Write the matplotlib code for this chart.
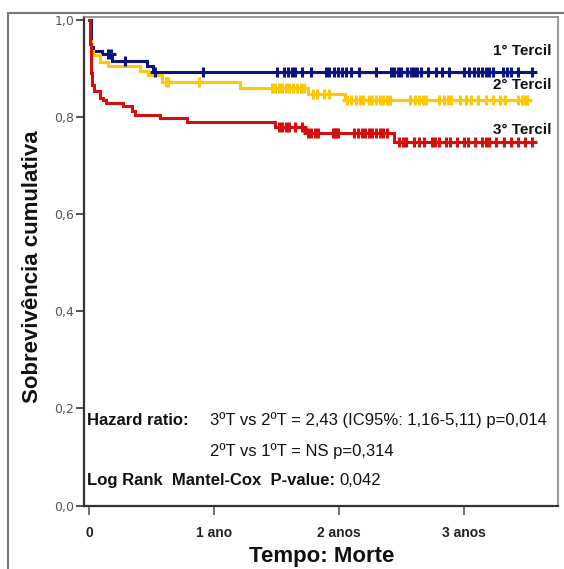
import matplotlib
matplotlib.use("Agg")
import matplotlib.pyplot as plt
from matplotlib.lines import Line2D
import numpy as np

# ---------------- data (years, cumulative survival) ----------------
t1_events = [0.0, 0.01, 0.03, 0.099, 0.179, 0.459, 0.512]
s1_events = [1.0, 0.945, 0.936, 0.929, 0.915, 0.905, 0.893]
t1_end = 3.55
t1_cens = [0.15, 0.17, 0.286, 0.526, 0.911, 1.50, 1.56, 1.59, 1.62, 1.645, 1.70, 1.775,
           1.89, 1.92, 1.96, 1.99, 2.02, 2.05, 2.09, 2.16, 2.29, 2.41, 2.44, 2.47, 2.49,
           2.54, 2.57, 2.60, 2.62, 2.65, 2.71, 2.77, 2.82, 2.88, 3.00, 3.04, 3.08, 3.11,
           3.14, 3.17, 3.20, 3.23, 3.31, 3.34, 3.37, 3.43, 3.545]

t2_events = [0.0, 0.005, 0.015, 0.03, 0.086, 0.153, 0.405, 0.472, 0.58, 1.206, 1.746, 2.046]
s2_events = [1.0, 0.956, 0.935, 0.927, 0.913, 0.906, 0.895, 0.886, 0.872, 0.860, 0.848, 0.835]
t2_end = 3.50
t2_cens = [0.61, 0.63, 0.88, 1.458, 1.487, 1.516, 1.545, 1.574, 1.60, 1.63, 1.66, 1.69,
           1.72, 1.79, 1.82, 1.875, 1.92, 2.063, 2.091, 2.135, 2.163, 2.192, 2.235, 2.264,
           2.293, 2.322, 2.350, 2.379, 2.408, 2.566, 2.609, 2.638, 2.667, 2.696, 2.796,
           2.839, 2.868, 2.897, 2.969, 3.012, 3.055, 3.113, 3.170, 3.228, 3.286, 3.329,
           3.430, 3.458, 3.487, 3.50]

t3_events = [0.0, 0.002, 0.005, 0.01, 0.015, 0.025, 0.04, 0.086, 0.112, 0.13, 0.272,
             0.339, 0.366, 0.566, 0.779, 1.486, 1.726, 2.438]
s3_events = [1.0, 0.98, 0.95, 0.92, 0.89, 0.865, 0.853, 0.840, 0.836, 0.829, 0.822,
             0.812, 0.805, 0.799, 0.789, 0.779, 0.768, 0.748]
t3_end = 3.545
t3_cens = [1.516, 1.545, 1.574, 1.60, 1.645, 1.703, 1.746, 1.775, 1.804, 1.833, 1.947,
           1.962, 1.976, 1.99, 2.12, 2.149, 2.178, 2.206, 2.235, 2.264, 2.293, 2.322,
           2.35, 2.379, 2.48, 2.509, 2.537, 2.595, 2.638, 2.681, 2.739, 2.768, 2.796,
           2.854, 2.883, 2.94, 2.998, 3.027, 3.084, 3.142, 3.17, 3.2, 3.257, 3.314,
           3.372, 3.43, 3.487, 3.545]

group_labels = ["1° Tercil", "2° Tercil", "3° Tercil"]
colors = ["#0a1480", "#ffc800", "#d40f0f"]
label_y = [0.935, 0.866, 0.773]

xtick_vals = [0, 1, 2, 3]
xtick_labels = ["0", "1 ano", "2 anos", "3 anos"]
ytick_vals = [0.0, 0.2, 0.4, 0.6, 0.8, 1.0]
ytick_labels = ["0,0", "0,2", "0,4", "0,6", "0,8", "1,0"]

# ---------------- figure ----------------
W, H = 564, 569
fig = plt.figure(figsize=(W / 100, H / 100), dpi=100)
fig.patch.set_facecolor("white")

ax_l, ax_r, ax_t, ax_b = 84, 558.3, 17, 505.5
ax = fig.add_axes([ax_l / W, 1 - ax_b / H, (ax_r - ax_l) / W, (ax_b - ax_t) / H])

groups = [(t1_events, s1_events, t1_end, t1_cens),
          (t2_events, s2_events, t2_end, t2_cens),
          (t3_events, s3_events, t3_end, t3_cens)]

for (te, se, tend, tc), col in zip(groups, colors):
    tt = np.array(list(te) + [tend])
    ss = np.array(list(se) + [se[-1]])
    ax.step(tt, ss, where="post", color=col, lw=2.2, solid_joinstyle="miter", zorder=3)
    te_arr = np.array(te)
    se_arr = np.array(se)
    idx = np.searchsorted(te_arr, np.array(tc), side="right") - 1
    ax.plot(tc, se_arr[idx], linestyle="none", marker="+", ms=6.5, mew=2.2,
            color=col, zorder=4)

ax.set_xlim(-0.042, 3.752)
ax.set_ylim(0.0, 1.006)

ax.set_xticks(xtick_vals)
ax.set_xticklabels(xtick_labels, fontfamily="Liberation Sans", fontweight="bold",
                   fontsize=10, color="#222222")
ax.set_yticks(ytick_vals)
ax.set_yticklabels(ytick_labels, fontfamily="DejaVu Sans", fontsize=9, color="#555555")
ax.tick_params(axis="x", direction="out", length=6.5, width=1.3, color="#666666", pad=8)
ax.tick_params(axis="y", direction="out", length=5.5, width=1.3, color="#444444", pad=1.5)

for side in ["left", "bottom"]:
    ax.spines[side].set_color("#333333")
    ax.spines[side].set_linewidth(1.6)
for side in ["top", "right"]:
    ax.spines[side].set_color("#888888")
    ax.spines[side].set_linewidth(1.2)

# group labels
for lab, yv in zip(group_labels, label_y):
    ax.text(3.694, yv, lab, ha="right", va="center", fontfamily="Liberation Sans",
            fontweight="bold", fontsize=11, color="#111111")

# annotations
fs = 12
ax.text(-0.016, 0.176, "Hazard ratio:", ha="left", va="center",
        fontfamily="Liberation Sans", fontweight="bold", fontsize=fs, color="#111111")
ax.text(0.966, 0.176, "3ºT vs 2ºT = 2,43 (IC95%: 1,16-5,11) p=0,014", ha="left",
        va="center", fontfamily="Liberation Sans", fontsize=fs, color="#111111")
ax.text(0.966, 0.113, "2ºT vs 1ºT = NS p=0,314", ha="left", va="center",
        fontfamily="Liberation Sans", fontsize=fs, color="#111111")
ax.text(-0.016, 0.0525, "Log Rank  Mantel-Cox  P-value:", ha="left", va="center",
        fontfamily="Liberation Sans", fontweight="bold", fontsize=fs, color="#111111")
ax.text(2.0, 0.0525, "0,042", ha="left", va="center",
        fontfamily="Liberation Sans", fontsize=fs, color="#111111")

# axis titles
fig.text(33 / W, 1 - 267 / H, "Sobrevivência cumulativa", rotation=90, ha="center",
         va="center", fontfamily="Liberation Sans", fontweight="bold", fontsize=16,
         color="#111111")
fig.text(322 / W, 1 - 556.5 / H, "Tempo: Morte", ha="center", va="center",
         fontfamily="Liberation Sans", fontweight="bold", fontsize=16, color="#111111")

# outer frame (left and top edges)
fig.add_artist(Line2D([8 / W, 8 / W], [1 - 13 / H, 0], transform=fig.transFigure,
                      color="#777777", lw=1.5))
fig.add_artist(Line2D([8 / W, 1.0], [1 - 13 / H, 1 - 13 / H], transform=fig.transFigure,
                      color="#777777", lw=1.5))

fig.savefig("out.png", dpi=100)
